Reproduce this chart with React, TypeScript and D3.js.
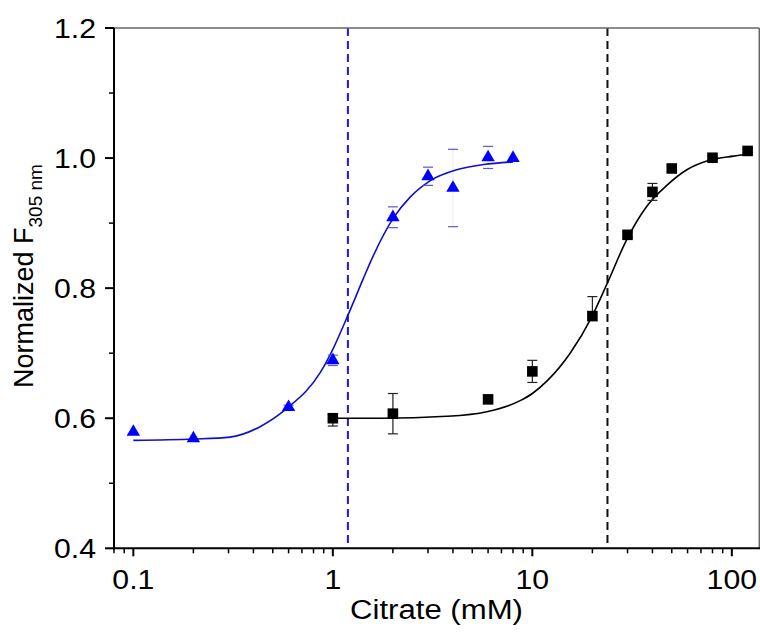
import React from "react";
import * as d3 from "d3";

// ---- Data ----
const blueX = [0.1, 0.2, 0.6, 1, 2, 3, 4, 6, 8];
const blueY = [0.579, 0.569, 0.617, 0.689, 0.909, 0.972, 0.954, 1.001, 1.0];
const blueErr = [0, 0, 0.003, 0.008, 0.016, 0.014, 0.0595, 0.017, 0];

const blackX = [1, 2, 6, 10, 20, 30, 40, 50, 80, 120];
const blackY = [0.6, 0.607, 0.629, 0.672, 0.757, 0.882, 0.948, 0.984, 1.0005, 1.011];
const blackErrUp = [0.006, 0.031, 0.006, 0.017, 0.03, 0.004, 0.013, 0.005, 0.003, 0.003];
const blackErrDown = [0.012, 0.031, 0.006, 0.017, 0.006, 0.004, 0.013, 0.005, 0.003, 0.003];

// fitted curves
const blueCurveX = [0.1, 0.2, 0.305, 0.432, 0.588, 0.864, 1.0, 1.197, 1.423, 1.569, 2.013, 2.44, 3.07, 4.18, 5.69, 8.0];
const blueCurveY = [0.566, 0.568, 0.571, 0.587, 0.615, 0.67, 0.706, 0.76, 0.815, 0.845, 0.908, 0.94, 0.965, 0.982, 0.99, 0.994];

const blackCurveX = [1, 1.734, 3.73, 5.91, 8.69, 10, 11.82, 15.47, 19.87, 23.63, 29.77, 37.5, 47.2, 59.5, 77.8, 101.9, 120];
const blackCurveY = [0.6, 0.6, 0.603, 0.61, 0.627, 0.638, 0.657, 0.7, 0.756, 0.806, 0.875, 0.926, 0.958, 0.982, 0.997, 1.003, 1.006];

const blueEC50 = 1.19;
const blackEC50 = 23.8;

const xMajorTicks = [0.1, 1, 10, 100];
const xTickLabels = ["0.1", "1", "10", "100"];
const yMajorTicks = [0.4, 0.6, 0.8, 1.0, 1.2];
const yTickLabels = ["0.4", "0.6", "0.8", "1.0", "1.2"];
const yMinorTicks = [0.5, 0.7, 0.9, 1.1];

const xTitle = "Citrate (mM)";
const yTitleMain = "Normalized F";
const yTitleSub = "305 nm";

// ---- Layout ----
const W = 760;
const H = 644;
const left = 114;
const right = 759.3;
const top = 28;
const bottom = 548.3;
const FONT = "'Liberation Sans', Arial, Helvetica, sans-serif";
const STRETCH = 1.12;

export default function App() {
  const x = d3.scaleLog().domain([0.08, 137.3]).range([left, right]);
  const y = d3.scaleLinear().domain([0.4, 1.2]).range([bottom, top]);

  const [d0, d1] = x.domain();
  const xMinor: number[] = [];
  for (let e = -2; e <= 2; e++) {
    for (let m = 2; m <= 9; m++) {
      const v = m * Math.pow(10, e);
      if (v >= d0 * 0.999 && v <= d1) xMinor.push(v);
    }
  }

  const line = d3
    .line<[number, number]>()
    .x((d) => x(d[0]))
    .y((d) => y(d[1]))
    .curve(d3.curveMonotoneX);

  const bluePath = line(blueCurveX.map((v, i) => [v, blueCurveY[i]]) as [number, number][]);
  const blackPath = line(blackCurveX.map((v, i) => [v, blackCurveY[i]]) as [number, number][]);

  const tri = d3.symbol().type(d3.symbolTriangle).size(78)();
  const sq = d3.symbol().type(d3.symbolSquare).size(112)();

  const blueMarker = "#0000ff";
  const blueLine = "#1010c8";
  const blueErrColor = "#5a5ac8";
  const cap = 5;

  return (
    <div style={{ position: "absolute", left: 0, top: 0 }}>
      <svg width={W} height={H} style={{ display: "block", background: "#fff" }}>
        <rect x={0} y={0} width={W} height={H} fill="#fff" />

        {/* dashed EC50 lines */}
        <line x1={x(blueEC50)} x2={x(blueEC50)} y1={top} y2={bottom} stroke="#1a1ae8" strokeWidth={2} strokeDasharray="8,5" />
        <line x1={x(blackEC50)} x2={x(blackEC50)} y1={top} y2={bottom} stroke="#111" strokeWidth={2} strokeDasharray="8,5" />

        {/* fitted curves */}
        <path d={bluePath || ""} fill="none" stroke={blueLine} strokeWidth={1.6} />
        <path d={blackPath || ""} fill="none" stroke="#000" strokeWidth={1.6} />

        {/* blue error bars (caps prominent, stem faint as in the reference) */}
        {blueX.map((v, i) =>
          blueErr[i] > 0 ? (
            <g key={"be" + i} stroke={blueErrColor} strokeWidth={1.2}>
              <line
                x1={x(v)}
                x2={x(v)}
                y1={y(blueY[i] - blueErr[i])}
                y2={y(blueY[i] + blueErr[i])}
                strokeOpacity={0.12}
              />
              <line x1={x(v) - cap} x2={x(v) + cap} y1={y(blueY[i] + blueErr[i])} y2={y(blueY[i] + blueErr[i])} />
              <line x1={x(v) - cap} x2={x(v) + cap} y1={y(blueY[i] - blueErr[i])} y2={y(blueY[i] - blueErr[i])} />
            </g>
          ) : null
        )}

        {/* black error bars */}
        {blackX.map((v, i) => (
          <g key={"ke" + i} stroke="#222" strokeWidth={1.2}>
            <line x1={x(v)} x2={x(v)} y1={y(blackY[i] - blackErrDown[i])} y2={y(blackY[i] + blackErrUp[i])} />
            <line x1={x(v) - cap} x2={x(v) + cap} y1={y(blackY[i] + blackErrUp[i])} y2={y(blackY[i] + blackErrUp[i])} />
            <line x1={x(v) - cap} x2={x(v) + cap} y1={y(blackY[i] - blackErrDown[i])} y2={y(blackY[i] - blackErrDown[i])} />
          </g>
        ))}

        {/* markers */}
        {blueX.map((v, i) => (
          <path key={"bt" + i} d={tri || ""} transform={`translate(${x(v)},${y(blueY[i])})`} fill={blueMarker} />
        ))}
        {blackX.map((v, i) => (
          <path key={"ks" + i} d={sq || ""} transform={`translate(${x(v)},${y(blackY[i])})`} fill="#000" />
        ))}

        {/* frame top/right */}
        <line x1={left} x2={right} y1={top} y2={top} stroke="#666" strokeWidth={1.5} />
        <line x1={right} x2={right} y1={top} y2={bottom} stroke="#666" strokeWidth={1.5} />

        {/* axes */}
        <line x1={left} x2={left} y1={top} y2={bottom + 1} stroke="#000" strokeWidth={2} />
        <line x1={left - 1} x2={right + 1} y1={bottom} y2={bottom} stroke="#000" strokeWidth={2} />

        {/* x ticks */}
        {xMajorTicks.map((v) => (
          <line key={"xm" + v} x1={x(v)} x2={x(v)} y1={bottom} y2={bottom + 8} stroke="#000" strokeWidth={2} />
        ))}
        {xMinor.map((v) => (
          <line key={"xn" + v} x1={x(v)} x2={x(v)} y1={bottom} y2={bottom + 5} stroke="#000" strokeWidth={1.5} />
        ))}
        {xMajorTicks.map((v, i) => (
          <text
            key={"xl" + v}
            transform={`translate(${x(v)},589) scale(${STRETCH},1)`}
            textAnchor="middle"
            fontFamily={FONT}
            fontSize={27}
            fill="#000"
          >
            {xTickLabels[i]}
          </text>
        ))}

        {/* y ticks */}
        {yMajorTicks.map((v) => (
          <line key={"ym" + v} x1={left - 9} x2={left} y1={y(v)} y2={y(v)} stroke="#000" strokeWidth={2} />
        ))}
        {yMinorTicks.map((v) => (
          <line key={"yn" + v} x1={left - 5} x2={left} y1={y(v)} y2={y(v)} stroke="#000" strokeWidth={1.5} />
        ))}
        {yMajorTicks.map((v, i) => (
          <text
            key={"yl" + v}
            transform={`translate(96,${y(v) + 9.6}) scale(${STRETCH},1)`}
            textAnchor="end"
            fontFamily={FONT}
            fontSize={27}
            fill="#000"
          >
            {yTickLabels[i]}
          </text>
        ))}

        {/* axis titles */}
        <text
          x={436.5}
          y={619}
          textAnchor="middle"
          fontFamily={FONT}
          fontSize={27}
          fill="#000"
          textLength={173}
          lengthAdjust="spacingAndGlyphs"
        >
          {xTitle}
        </text>
        <text transform="translate(33,388) rotate(-90)" textAnchor="start" fontFamily={FONT} fontSize={27} fill="#000">
          <tspan>{yTitleMain}</tspan>
          <tspan fontSize={19} dy={9}>
            {yTitleSub}
          </tspan>
        </text>
      </svg>
    </div>
  );
}
